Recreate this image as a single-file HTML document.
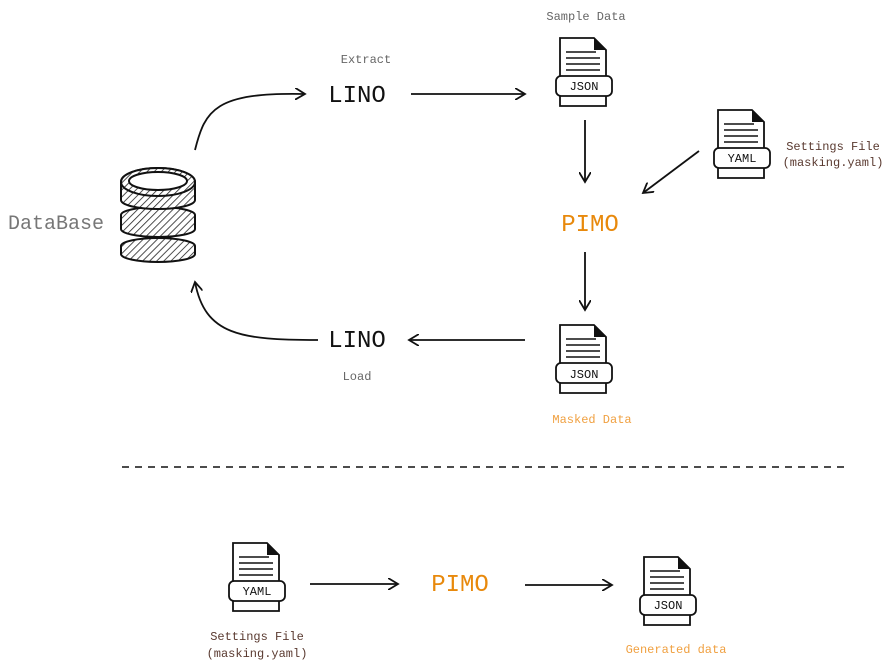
<!DOCTYPE html>
<html><head><meta charset="utf-8"><style>
html,body{margin:0;padding:0;background:#fff;}
svg{display:block;font-family:"Liberation Mono","DejaVu Sans Mono",monospace;}
</style></head><body>
<svg width="887" height="670" viewBox="0 0 887 670" xmlns="http://www.w3.org/2000/svg">
<defs>
<pattern id="h" width="5" height="5" patternUnits="userSpaceOnUse" patternTransform="rotate(45)">
<rect width="5" height="5" fill="#fff"/><line x1="0" y1="0" x2="0" y2="5" stroke="#222" stroke-width="1.6"/></pattern>
<marker id="a" markerWidth="12" markerHeight="12" refX="10" refY="6" orient="auto" markerUnits="userSpaceOnUse">
<path d="M0,0 L10,6 L0,12" fill="none" stroke="#111" stroke-width="1.8"/></marker>
<g id="doc">
<path d="M4,2 H38 L50,14 V70 H4 Z" fill="#fff" stroke="#111" stroke-width="1.8"/>
<path d="M38,2 V14 H50 Z" fill="#111"/>
<path d="M10,16 H40 M10,22 H44 M10,28 H44 M10,34 H44" stroke="#111" stroke-width="1.5"/>
<rect x="0" y="40" width="56" height="20" rx="5" fill="#fff" stroke="#111" stroke-width="1.8"/>
</g>
</defs>
<use href="#doc" x="556" y="36"/>
<text x="584" y="90" font-size="12" text-anchor="middle" fill="#111">JSON</text>
<use href="#doc" x="714" y="108"/>
<text x="742" y="162" font-size="12" text-anchor="middle" fill="#111">YAML</text>
<use href="#doc" x="556" y="323"/>
<text x="584" y="378" font-size="12" text-anchor="middle" fill="#111">JSON</text>
<use href="#doc" x="229" y="541"/>
<text x="257" y="595" font-size="12" text-anchor="middle" fill="#111">YAML</text>
<use href="#doc" x="640" y="555"/>
<text x="668" y="609" font-size="12" text-anchor="middle" fill="#111">JSON</text>
<g stroke="#111" stroke-width="2">
<path d="M121,246 A37,8 0 0 1 195,246 V254 A37,8 0 0 1 121,254 Z" fill="url(#h)"/>
<path d="M121,215 A37,8 0 0 1 195,215 V229 A37,8 0 0 1 121,229 Z" fill="url(#h)"/>
<path d="M121,182 A37,14 0 0 1 195,182 V200 A37,9 0 0 1 121,200 Z" fill="url(#h)"/>
<ellipse cx="158" cy="182" rx="37" ry="14" fill="url(#h)"/>
<ellipse cx="158" cy="181" rx="29" ry="9" fill="#fff"/>
</g>
<text x="8" y="229" font-size="20" fill="#777">DataBase</text>
<text x="366" y="63" font-size="12" text-anchor="middle" fill="#666">Extract</text>
<text x="357" y="102" font-size="24" text-anchor="middle" fill="#111">LINO</text>
<text x="357" y="347" font-size="24" text-anchor="middle" fill="#111">LINO</text>
<text x="357" y="380" font-size="12" text-anchor="middle" fill="#666">Load</text>
<text x="586" y="20" font-size="12" text-anchor="middle" fill="#666">Sample Data</text>
<text x="833" y="150" font-size="12" text-anchor="middle" fill="#5a3a30">Settings File</text>
<text x="833" y="166" font-size="12" text-anchor="middle" fill="#5a3a30">(masking.yaml)</text>
<text x="590" y="231" font-size="24" text-anchor="middle" fill="#e8890c">PIMO</text>
<text x="592" y="423" font-size="12" text-anchor="middle" fill="#f0a040">Masked Data</text>
<text x="460" y="591" font-size="24" text-anchor="middle" fill="#e8890c">PIMO</text>
<text x="257" y="640" font-size="12" text-anchor="middle" fill="#5a3a30">Settings File</text>
<text x="257" y="657" font-size="12" text-anchor="middle" fill="#5a3a30">(masking.yaml)</text>
<text x="676" y="653" font-size="12" text-anchor="middle" fill="#f0a040">Generated data</text>
<g fill="none" stroke="#111" stroke-width="1.8" marker-end="url(#a)">
<path d="M195,150 C205,110 215,92 305,94"/>
<path d="M411,94 L525,94"/>
<path d="M585,120 L585,182"/>
<path d="M699,151 L643,193"/>
<path d="M585,252 L585,310"/>
<path d="M525,340 L409,340"/>
<path d="M318,340 C240,340 205,335 195,282"/>
<path d="M310,584 L398,584"/>
<path d="M525,585 L612,585"/>
</g>
<line x1="122" y1="467" x2="845" y2="467" stroke="#111" stroke-width="1.6" stroke-dasharray="7,6"/>
</svg>
</body></html>
